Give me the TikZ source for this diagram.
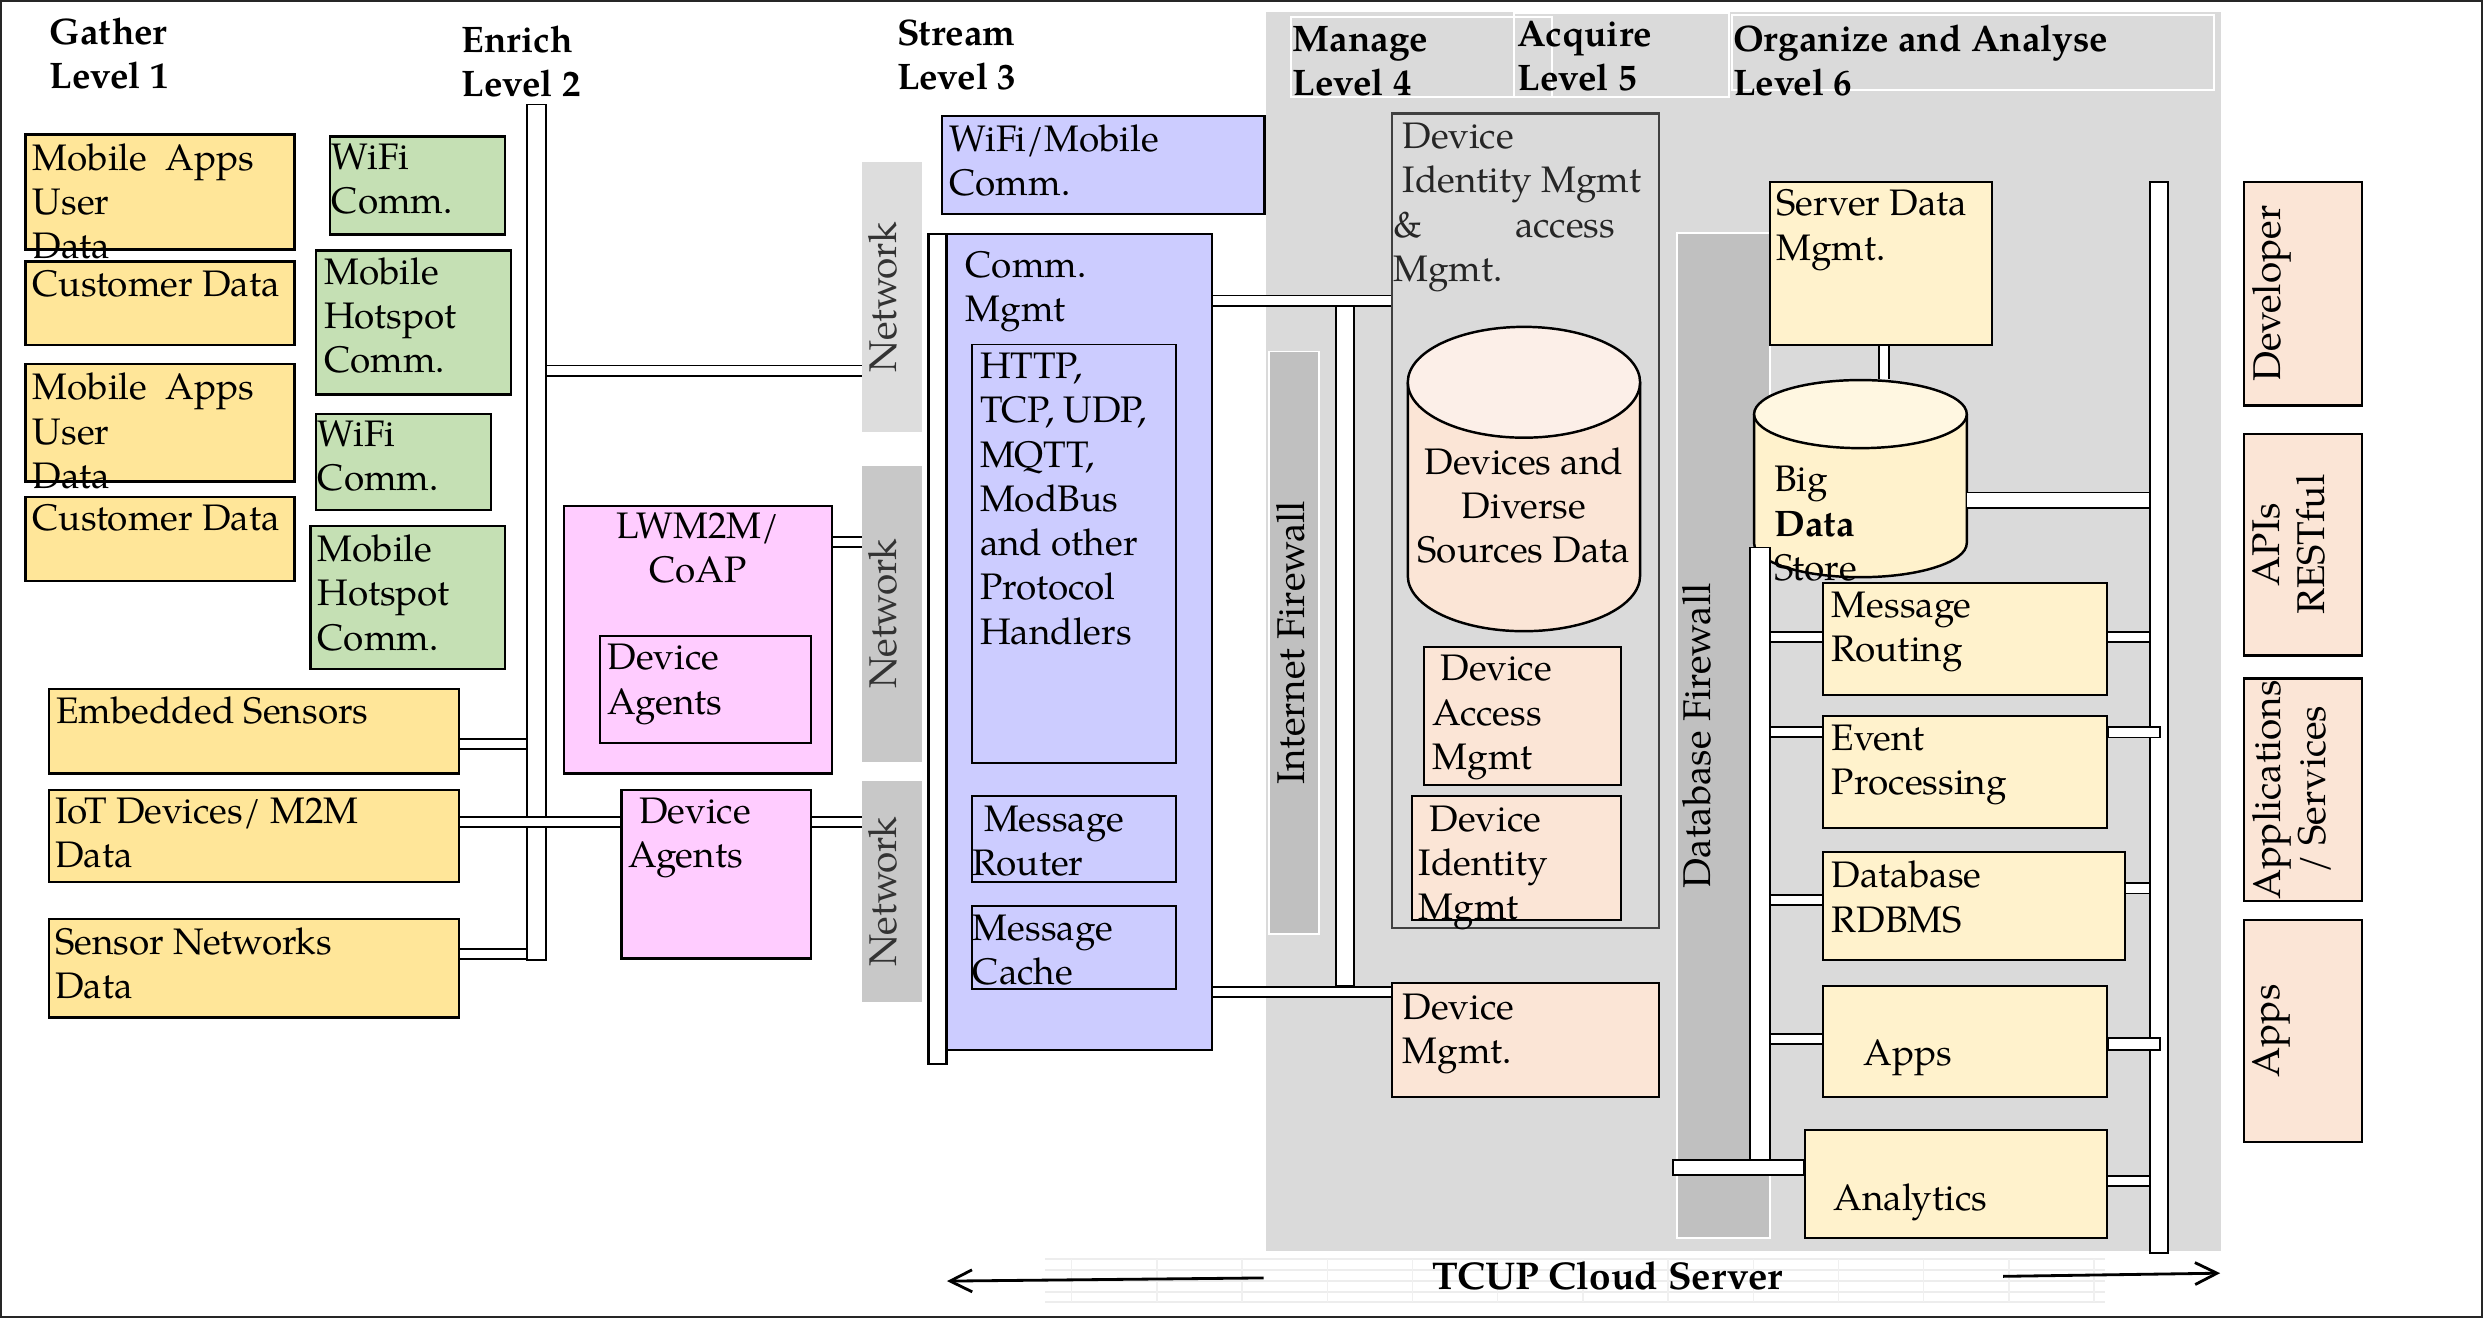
\documentclass[tikz,border=0pt]{standalone}
\usepackage{fontspec}
\setmainfont{texgyrepagella}[Extension=.otf,
    UprightFont=*-regular, BoldFont=*-bold,
    ItalicFont=*-italic, BoldItalicFont=*-bolditalic]
\usetikzlibrary{arrows.meta,fit}

\definecolor{gatheryellow}{HTML}{FFE699}
\definecolor{commgreen}{HTML}{C5E0B4}
\definecolor{agentpink}{HTML}{FFCCFF}
\definecolor{streamblue}{HTML}{CCCCFF}
\definecolor{managepeach}{HTML}{FBE5D6}
\definecolor{peachtop}{HTML}{FCEFE8}
\definecolor{analysecream}{HTML}{FFF2CC}
\definecolor{creamtop}{HTML}{FFF7E1}
\definecolor{cloudgrey}{HTML}{DADADA}
\definecolor{netlight}{HTML}{DDDDDD}
\definecolor{netdark}{HTML}{C8C8C8}
\definecolor{wallgrey}{HTML}{C0C0C0}

% one drawing unit
\newlength\pu
\setlength\pu{0.015835cm}

\begin{document}
\begin{tikzpicture}[x=0.015835cm, y=-0.015835cm,
    every node/.style={font=\fontsize{10.5}{12.6}\selectfont},
    box/.style={draw, line width=.7pt, inner sep=0pt},
    inbox/.style={draw, line width=.5pt, inner sep=0pt},
    busbar/.style={draw, fill=white, line width=.5pt, inner sep=0pt},
    wall/.style={draw=white, fill=wallgrey, line width=.5pt, inner sep=0pt},
    netbox/.style={fill=#1, inner sep=0pt},
    txt/.style={anchor=north west, inner sep=0pt, align=left},
    head/.style={anchor=north west, inner sep=0pt, align=left,
        font=\fontsize{10.5}{12.6}\selectfont\bfseries},
    vtext/.style={rotate=90, anchor=north, inner sep=0pt, align=center,
        font=\fontsize{11}{12.6}\selectfont},
    link/.style={draw, line width=.5pt, double=white, double distance=5.3\pu},
    arrow/.style={-{Straight Barb[length=2.2mm, width=2.2mm]}, line width=.8pt}
]
    \useasboundingbox (0,0) rectangle (1568,832);

    % cloud server area and level headers
    \node[fill=cloudgrey, inner sep=0pt, fit={(799.5,7.4) (1402.6,790)}] (cloud) {};
    \draw[white, line width=.6pt] (815,11) rectangle (980,61);
    \draw[white, line width=.6pt] (956,8) rectangle (1092,61);
    \draw[white, line width=.6pt] (1094,9.5) rectangle (1398,57);

    \node[head] (gather) at (31,11) {Gather\\Level 1};
    \node[head] (enrich) at (291,16) {Enrich\\Level 2};
    \node[head] (stream) at (566,12) {Stream\\Level 3};
    \node[head] (manage) at (816,16) {Manage\\Level 4};
    \node[head] (acquire) at (958,13) {Acquire\\Level 5};
    \node[head] (organize) at (1094,15) {Organize and Analyse\\Level 6};

    % level 1
    \node[box, fill=gatheryellow, fit={(16,85) (186,157.5)}] (apps1) {};
    \node[txt] (apps1-t) at ([shift={(5,6)}]apps1.north west) {Mobile\ \ Apps\\User\\Data};
    \node[box, fill=gatheryellow, fit={(16,165) (186,218)}] (cust1) {};
    \node[txt] (cust1-t) at ([shift={(5,6)}]cust1.north west) {Customer Data};
    \node[box, fill=gatheryellow, fit={(16,230) (186,304)}] (apps2) {};
    \node[txt] (apps2-t) at ([shift={(5,6)}]apps2.north west) {Mobile\ \ Apps\\User\\Data};
    \node[box, fill=gatheryellow, fit={(16,314) (186,367)}] (cust2) {};
    \node[txt] (cust2-t) at ([shift={(5,5)}]cust2.north west) {Customer Data};

    \node[box, fill=commgreen, fit={(208.4,86.3) (319,148)}] (wifi1) {};
    \node[txt] (wifi1-t) at ([shift={(1.5,4.7)}]wifi1.north west) {WiFi\\Comm.};
    \node[box, fill=commgreen, fit={(199.6,158.3) (322.6,249)}] (hotspot1) {};
    \node[txt] (hotspot1-t) at ([shift={(5.5,4.7)}]hotspot1.north west) {Mobile\\Hotspot\\Comm.};
    \node[box, fill=commgreen, fit={(199.6,261.4) (310,322)}] (wifi2) {};
    \node[txt] (wifi2-t) at ([shift={(1.5,4.6)}]wifi2.north west) {WiFi\\Comm.};
    \node[box, fill=commgreen, fit={(196,332) (319,422.5)}] (hotspot2) {};
    \node[txt] (hotspot2-t) at ([shift={(5,6)}]hotspot2.north west) {Mobile\\Hotspot\\Comm.};

    \node[box, fill=gatheryellow, fit={(30.8,435) (290,488.5)}] (sensors) {};
    \node[txt] (sensors-t) at ([shift={(5,5)}]sensors.north west) {Embedded Sensors};
    \node[box, fill=gatheryellow, fit={(30.8,499) (290,557)}] (iot) {};
    \node[txt] (iot-t) at ([shift={(4.5,5)}]iot.north west) {IoT Devices/\ M2M\\Data};
    \node[box, fill=gatheryellow, fit={(30.8,580.5) (290,642.6)}] (sensornet) {};
    \node[txt] (sensornet-t) at ([shift={(4.5,5.5)}]sensornet.north west) {Sensor Networks\\Data};

    % level 2
    \node[busbar, fit={(333,66) (345,606)}] (enrichbus) {};
    \node[box, fill=agentpink, fit={(356.3,319.6) (525.5,488.5)}] (lwm) {};
    \node[anchor=north, inner sep=0pt, align=center] (lwm-t) at ([shift={(0,4.4)}]lwm.north) {LWM2M/\\CoAP};
    \node[inbox, fit={(379,401.7) (512,469)}] (agentsin) {};
    \node[txt] (agentsin-t) at ([shift={(5,5.3)}]agentsin.north west) {Device\\Agents};
    \node[box, fill=agentpink, fit={(392.6,499) (512,605.4)}] (agents) {};
    \node[txt] (agents-t) at ([shift={(4.5,5)}]agents.north west) {\hspace*{7\pu}Device\\Agents};

    \node[netbox=netlight, fit={(544.5,102.5) (582.3,273)}] (net1) {};
    \node[netbox=netdark, fit={(544.5,294) (582.3,481)}] (net2) {};
    \node[netbox=netdark, fit={(544.5,493) (582.3,632.8)}] (net3) {};
    \node[vtext, text=black!80] (net1-t) at ([shift={(4,0)}]net1.west) {Network};
    \node[vtext, text=black!80] (net2-t) at ([shift={(4,0)}]net2.west) {Network};
    \node[vtext, text=black!80] (net3-t) at ([shift={(4,0)}]net3.west) {Network};

    \draw[link] (enrichbus.east |- 0,234) -- (net1.west |- 0,234);
    \draw[link] (sensors.east |- 0,469.9) -- (enrichbus.west |- 0,469.9);
    \draw[link] (iot.east |- 0,519) -- (agents.west |- 0,519);
    \draw[link] (sensornet.east |- 0,602.4) -- (enrichbus.west |- 0,602.4);
    \draw[link] (lwm.east |- 0,342.3) -- (net2.west |- 0,342.3);
    \draw[link] (agents.east |- 0,519) -- (net3.west |- 0,519);

    % level 3
    \node[box, fill=streamblue, fit={(595,73.3) (798.6,135.3)}] (wifimobile) {};
    \node[txt] (wifimobile-t) at ([shift={(5,5.7)}]wifimobile.north west) {WiFi/Mobile\\Comm.};
    \node[busbar, line width=.7pt, fit={(586.4,147.7) (597.7,672)}] (commside) {};
    \node[box, fill=streamblue, fit={(597.7,147.7) (765.4,663)}] (commmgmt) {};
    \node[txt] (commmgmt-t) at ([shift={(12.5,11.3)}]commmgmt.north west) {Comm.\\Mgmt};
    \node[inbox, fit={(614,217.6) (742.7,482)}] (protocols) {};
    \node[txt] (protocols-t) at ([shift={(5,5.4)}]protocols.north west)
        {HTTP,\\TCP, UDP,\\MQTT,\\ModBus\\and other\\Protocol\\Handlers};
    \node[inbox, fit={(614,502.5) (742.7,557)}] (router) {};
    \node[txt] (router-t) at ([shift={(0.5,6.5)}]router.north west) {\hspace*{7\pu}Message\\Router};
    \node[inbox, fit={(614,572) (742.7,624.6)}] (cache) {};
    \node[txt] (cache-t) at ([shift={(0.5,6)}]cache.north west) {Message\\Cache};

    % level 4 and 5
    \node[wall, fit={(801.4,222) (832.9,590)}] (netwall) {};
    \node[vtext] (netwall-t) at ([shift={(5,0)}]netwall.west) {Internet Firewall};

    \node[draw=black!75, line width=.6pt, inner sep=0pt, fit={(879,71.7) (1047.5,586)}] (identity) {};
    \node[txt, text=black!85] (identity-t) at ([shift={(1,6.3)}]identity.north west)
        {\hspace*{6\pu}Device\\\hspace*{6\pu}Identity Mgmt\\\makebox[77\pu][l]{\&}access\\Mgmt.};

    \node[inner sep=0pt, fit={(889,206.4) (1035.7,398.6)}] (devstore) {};
    \fill[managepeach] (889,241.4) -- (889,363.6)
        arc[start angle=180, end angle=0, x radius=73.35, y radius=35] -- (1035.7,241.4) -- cycle;
    \draw[line width=.7pt] (889,241.4) -- (889,363.6)
        arc[start angle=180, end angle=0, x radius=73.35, y radius=35] -- (1035.7,241.4);
    \draw[line width=.7pt, fill=peachtop] (962.35,241.4) ellipse [x radius=73.35, y radius=35];
    \node[anchor=north, inner sep=0pt, align=center] (devstore-t) at (962.35,282)
        {Devices and\\Diverse\\Sources Data};

    \node[box, line width=.6pt, fill=managepeach, fit={(899,408.5) (1023.7,495.7)}] (access) {};
    \node[txt] (access-t) at ([shift={(6,5.5)}]access.north west) {\hspace*{5\pu}Device\\Access\\Mgmt};
    \node[box, line width=.6pt, fill=managepeach, fit={(891.7,502.5) (1023.7,581)}] (devid) {};
    \node[txt] (devid-t) at ([shift={(4.5,6.5)}]devid.north west) {\hspace*{7\pu}Device\\Identity\\Mgmt};
    \node[box, line width=.6pt, fill=managepeach, fit={(879,621) (1047.5,693)}] (devmgmt) {};
    \node[txt] (devmgmt-t) at ([shift={(7,7)}]devmgmt.north west) {Device\\Mgmt.};

    \draw[link] (commmgmt.east |- 0,189.8) -- (identity.west |- 0,189.8);
    \draw[link] (commmgmt.east |- 0,626.4) -- (devmgmt.west |- 0,626.4);
    \node[busbar, fit={(843.7,193.5) (855.2,622.6)}] (mgmtbar) {};

    % level 6
    \node[wall, fit={(1058.8,147.3) (1117.5,782)}] (dbwall) {};
    \node[vtext] (dbwall-t) at ([shift={(4,0)}]dbwall.west) {Database Firewall};

    \node[box, line width=.6pt, fill=analysecream, fit={(1117.5,115) (1257.8,218)}] (servermgmt) {};
    \node[txt] (servermgmt-t) at ([shift={(4.5,5)}]servermgmt.north west) {Server Data\\Mgmt.};

    \node[inner sep=0pt, fit={(1107.7,240) (1242,364.5)}] (bigdata) {};
    \fill[analysecream] (1107.7,261.5) -- (1107.7,343)
        arc[start angle=180, end angle=0, x radius=67.15, y radius=21.5] -- (1242,261.5) -- cycle;
    \draw[line width=.7pt] (1107.7,261.5) -- (1107.7,343)
        arc[start angle=180, end angle=0, x radius=67.15, y radius=21.5] -- (1242,261.5);
    \draw[line width=.7pt, fill=creamtop] (1174.85,261.5) ellipse [x radius=67.15, y radius=21.5];
    \node[txt] (bigdata-t) at (1120,294) {Big\\\textbf{Data}\\Store};

    \draw[link] (servermgmt.south -| 1189.6,0) -- (bigdata.north -| 1189.6,0);

    \node[busbar, fit={(1105,345.8) (1117.5,732.6)}] (leftbus) {};
    \node[busbar, line width=.6pt, fit={(1357.8,115) (1369,791)}] (rightbus) {};

    \node[box, line width=.6pt, fill=analysecream, fit={(1151,368) (1330.7,439)}] (routing) {};
    \node[txt] (routing-t) at ([shift={(6,6)}]routing.north west) {Message\\Routing};
    \node[box, line width=.6pt, fill=analysecream, fit={(1151,452) (1330.7,523)}] (events) {};
    \node[txt] (events-t) at ([shift={(6,6)}]events.north west) {Event\\Processing};
    \node[box, line width=.6pt, fill=analysecream, fit={(1151,538) (1342,606)}] (rdbms) {};
    \node[txt] (rdbms-t) at ([shift={(6,6)}]rdbms.north west) {Database\\RDBMS};
    \node[box, line width=.6pt, fill=analysecream, fit={(1151,622.5) (1330.7,693)}] (apps) {};
    \node[txt] (apps-t) at ([shift={(26,34.5)}]apps.north west) {Apps};
    \node[box, line width=.6pt, fill=analysecream, fit={(1140,713.6) (1330.6,782)}] (analytics) {};
    \node[txt] (analytics-t) at ([shift={(18,34.4)}]analytics.north west) {Analytics};

    \draw[link, double distance=8.8\pu] (bigdata.east |- 0,315.9) -- (rightbus.west |- 0,315.9);
    \draw[link] (leftbus.east |- 0,402.1) -- (routing.west |- 0,402.1);
    \draw[link] (routing.east |- 0,402.1) -- (rightbus.west |- 0,402.1);
    \draw[link] (leftbus.east |- 0,462.4) -- (events.west |- 0,462.4);
    \draw[busbar] (events.east |- 0,459) rectangle (1364,465.7);
    \draw[link] (leftbus.east |- 0,568.3) -- (rdbms.west |- 0,568.3);
    \draw[link] (rdbms.east |- 0,561) -- (rightbus.west |- 0,561);
    \draw[link] (leftbus.east |- 0,656.2) -- (apps.west |- 0,656.2);
    \draw[busbar] (apps.east |- 0,655.5) rectangle (1364,663);
    \draw[busbar] (1056.6,732.6) rectangle (analytics.west |- 0,742);
    \draw[link] (analytics.east |- 0,745.7) -- (rightbus.west |- 0,745.7);

    % consumers
    \node[box, fill=managepeach, fit={(1417,115) (1491.7,256)}] (developer) {};
    \node[vtext] (developer-t) at ([shift={(6,0)}]developer.west) {Developer};
    \node[box, fill=managepeach, fit={(1417,274) (1491.7,414)}] (apis) {};
    \node[vtext] (apis-t) at ([shift={(6,0)}]apis.west) {APIs\\RESTful};
    \node[box, fill=managepeach, fit={(1417,428.5) (1491.7,569)}] (services) {};
    \node[vtext] (services-t) at ([shift={(6,0)}]services.west) {Applications\\/ Services};
    \node[box, fill=managepeach, fit={(1417,581) (1491.7,721)}] (userapps) {};
    \node[vtext] (userapps-t) at ([shift={(6,0)}]userapps.west) {Apps};

    % cloud server caption
    \foreach \y in {795.3,802,808.8,815.7,822}
        \draw[black!7, line width=.6pt] (660,\y) -- (1329,\y);
    \foreach \x in {676.8,730.6,...,1329}
        \draw[black!6, line width=.4pt] (\x,795.3) -- (\x,822);
    \node[inner sep=0pt, font=\fontsize{11}{13}\selectfont\bfseries] (tcup) at (1015,806) {TCUP Cloud Server};
    \coordinate (cloudleftstart) at (798,807);
    \coordinate (cloudleftend) at (598,809);
    \coordinate (cloudrightstart) at (1265,806);
    \coordinate (cloudrightend) at (1402,804);
    \draw[arrow] (cloudleftstart) -- (cloudleftend);
    \draw[arrow] (cloudrightstart) -- (cloudrightend);

    \draw[black!85, line width=.6pt] (0.4,0.4) rectangle (1567.6,831.6);
\end{tikzpicture}
\end{document}
